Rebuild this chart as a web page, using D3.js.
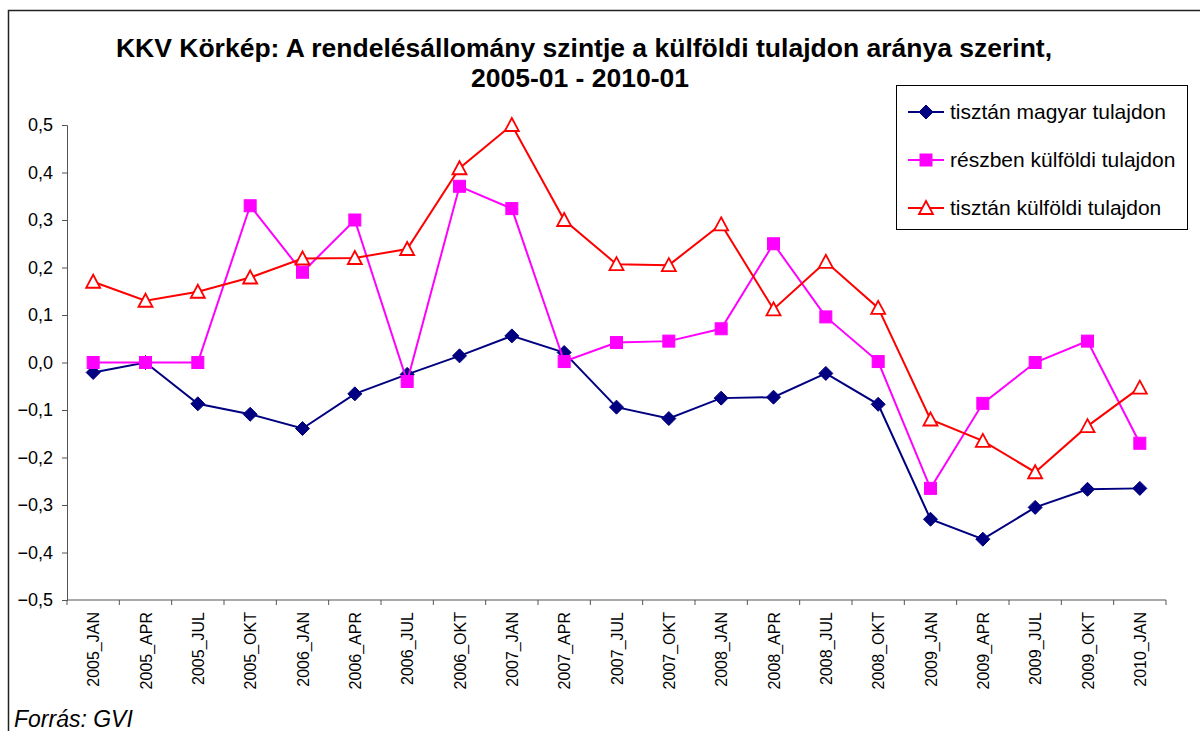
<!DOCTYPE html>
<html>
<head>
<meta charset="utf-8">
<script src="https://cdn.jsdelivr.net/npm/d3@7"></script>
<style>
  body { margin: 0; background: #fff; }
  svg { display: block; font-family: "Liberation Sans", Arial, sans-serif; }
</style>
</head>
<body>
<svg id="chart" width="1200" height="731"></svg>
<script>
// categories (quarters)
var categories = ["2005_JAN", "2005_APR", "2005_JUL", "2005_OKT", "2006_JAN", "2006_APR", "2006_JUL",
  "2006_OKT", "2007_JAN", "2007_APR", "2007_JUL", "2007_OKT", "2008_JAN", "2008_APR", "2008_JUL",
  "2008_OKT", "2009_JAN", "2009_APR", "2009_JUL", "2009_OKT", "2010_JAN"];

// series values
var magyar = [-0.021, 0.0, -0.087, -0.109, -0.139, -0.066, -0.025, 0.014, 0.056, 0.021, -0.094,
  -0.118, -0.075, -0.073, -0.023, -0.088, -0.330, -0.372, -0.305, -0.267, -0.265];
var reszben = [0.0, 0.0, 0.0, 0.33, 0.19, 0.30, -0.040, 0.371, 0.324, 0.002, 0.042,
  0.045, 0.071, 0.25, 0.096, 0.002, -0.265, -0.086, 0.0, 0.045, -0.17];
var kulfoldi = [0.17, 0.13, 0.149, 0.179, 0.219, 0.22, 0.239, 0.409, 0.5, 0.30, 0.207,
  0.205, 0.291, 0.112, 0.212, 0.115, -0.12, -0.165, -0.231, -0.134, -0.053];

var seriesNames = ["tisztán magyar tulajdon", "részben külföldi tulajdon", "tisztán külföldi tulajdon"];
var yTicks = [-0.5, -0.4, -0.3, -0.2, -0.1, 0, 0.1, 0.2, 0.3, 0.4, 0.5];

var series = [
  { name: seriesNames[0], values: magyar, color: "#000080", marker: "diamond" },
  { name: seriesNames[1], values: reszben, color: "#ff00ff", marker: "square" },
  { name: seriesNames[2], values: kulfoldi, color: "#ff0000", marker: "triangle" }
];

var svg = d3.select("#chart");

// outer chart border
svg.append("rect")
  .attr("x", 8.5).attr("y", 10.5)
  .attr("width", 1200).attr("height", 740)
  .attr("fill", "none").attr("stroke", "#222").attr("stroke-width", 1.5);

// title
svg.append("text")
  .attr("x", 584).attr("y", 57)
  .attr("text-anchor", "middle")
  .attr("font-size", 26.5).attr("font-weight", "bold")
  .text("KKV Körkép: A rendelésállomány szintje a külföldi tulajdon aránya szerint,");
svg.append("text")
  .attr("x", 580).attr("y", 87)
  .attr("text-anchor", "middle")
  .attr("font-size", 26.5).attr("font-weight", "bold")
  .text("2005-01 - 2010-01");

// scales
var x = d3.scaleBand().domain(categories).range([67, 1166]).padding(0);
var y = d3.scaleLinear().domain([-0.5, 0.5]).range([600, 125]);
var cx = function (c) { return x(c) + x.bandwidth() / 2; };

// y axis
var yAxis = svg.append("g")
  .attr("transform", "translate(67,0)")
  .call(d3.axisLeft(y).tickValues(yTicks).tickSize(5).tickPadding(9)
    .tickFormat(function (d) { return d3.format(".1f")(d).replace(".", ","); }));
yAxis.selectAll("text").attr("font-size", 18).attr("fill", "#000")
  .attr("font-family", "Liberation Sans, Arial, sans-serif");
yAxis.selectAll("line, path").attr("stroke", "#555");

// x axis (ticks between categories)
var xg = svg.append("g").attr("transform", "translate(0,600)");
xg.append("line")
  .attr("x1", 67).attr("x2", 1166)
  .attr("stroke", "#555");
xg.selectAll(".tk")
  .data(categories.concat(["end"]))
  .enter().append("line")
  .attr("x1", function (d, i) { return i < categories.length ? x(d) : 1166; })
  .attr("x2", function (d, i) { return i < categories.length ? x(d) : 1166; })
  .attr("y1", 0).attr("y2", 5)
  .attr("stroke", "#555");
xg.selectAll(".lbl")
  .data(categories)
  .enter().append("text")
  .attr("transform", function (d) { return "translate(" + (cx(d) + 6) + ",12) rotate(-90)"; })
  .attr("text-anchor", "end")
  .attr("font-size", 16)
  .text(function (d) { return d; });

// markers
function drawMarker(g, type, color) {
  if (type === "diamond") {
    g.append("path").attr("d", "M0,-7L7,0L0,7L-7,0Z").attr("fill", color).attr("stroke", color);
  } else if (type === "square") {
    g.append("rect").attr("x", -6).attr("y", -6).attr("width", 12).attr("height", 12)
      .attr("fill", color).attr("stroke", color).attr("stroke-width", 1);
  } else {
    g.append("path").attr("d", "M0,-7L7,6L-7,6Z").attr("fill", "#fff")
      .attr("stroke", color).attr("stroke-width", 1.8);
  }
}

var line = d3.line()
  .x(function (d, i) { return cx(categories[i]); })
  .y(function (d) { return y(d); });

series.forEach(function (s) {
  svg.append("path")
    .attr("d", line(s.values))
    .attr("fill", "none")
    .attr("stroke", s.color)
    .attr("stroke-width", 2);
  s.values.forEach(function (v, i) {
    var g = svg.append("g").attr("transform", "translate(" + cx(categories[i]) + "," + y(v) + ")");
    drawMarker(g, s.marker, s.color);
  });
});

// legend
var legend = svg.append("g");
legend.append("rect")
  .attr("x", 896.5).attr("y", 85.5).attr("width", 291).attr("height", 144)
  .attr("fill", "#fff").attr("stroke", "#000").attr("stroke-width", 1);
series.forEach(function (s, i) {
  var ly = 112 + i * 48;
  var g = legend.append("g");
  g.append("line").attr("x1", 908).attr("x2", 944).attr("y1", ly).attr("y2", ly)
    .attr("stroke", s.color).attr("stroke-width", 2);
  drawMarker(g.append("g").attr("transform", "translate(926," + ly + ")"), s.marker, s.color);
  g.append("text").attr("x", 950).attr("y", ly + 7)
    .attr("font-size", 21).text(s.name);
});

// source
svg.append("text")
  .attr("x", 14).attr("y", 727)
  .attr("font-size", 23).attr("font-style", "italic")
  .text("Forrás: GVI");
</script>
</body>
</html>
